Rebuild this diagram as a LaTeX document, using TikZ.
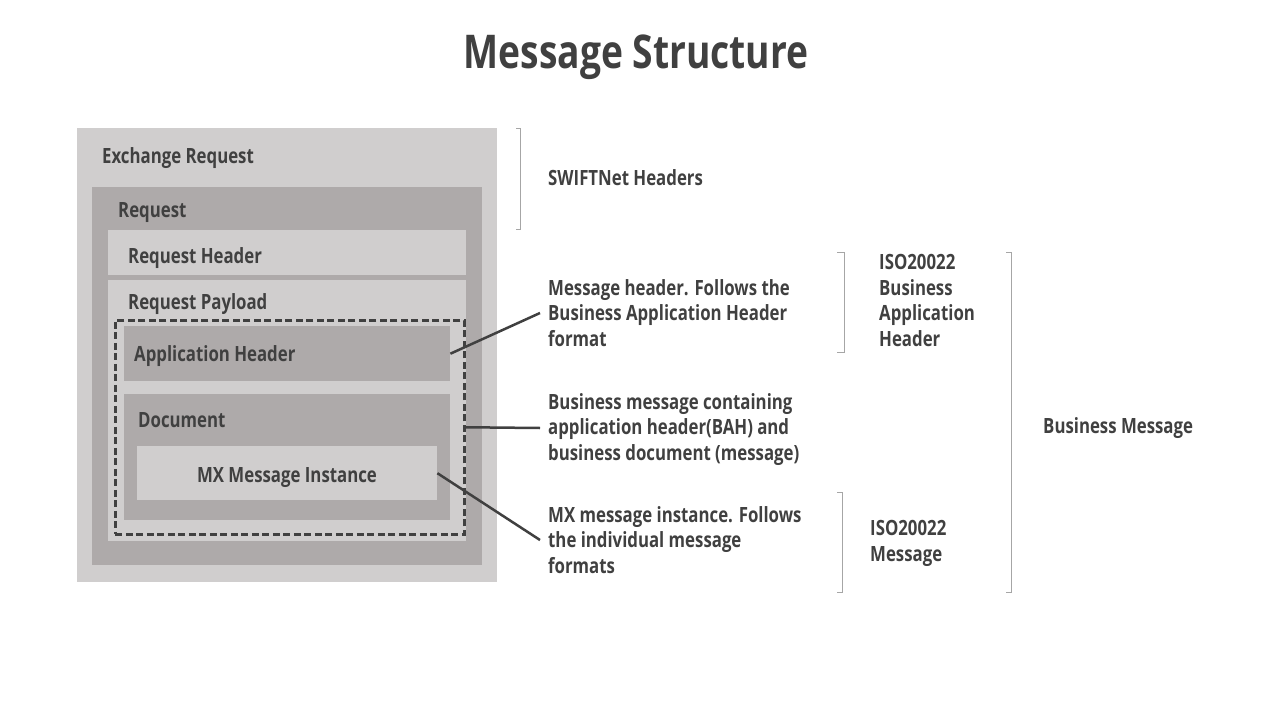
\documentclass[tikz,border=0pt]{standalone}
\usepackage{fontspec}
\setmainfont{Open Sans}[FakeStretch=0.8]
\usepackage{tikz}
\usetikzlibrary{calc,positioning}
\definecolor{boxlight}{HTML}{D0CECE}
\definecolor{boxdark}{HTML}{AEAAAA}
\definecolor{txtgray}{HTML}{404040}
\definecolor{brgray}{HTML}{A6A6A6}
\tikzset{
  lightbox/.style={fill=boxlight, draw=none, anchor=north west, inner sep=0pt},
  darkbox/.style={fill=boxdark, draw=none, anchor=north west, inner sep=0pt},
  lbl/.style={font=\bfseries\fontsize{21}{25.5}\selectfont, text=txtgray, inner sep=0pt, anchor=base west},
  desc/.style={lbl, align=left, anchor=west},
  conn/.style={draw=txtgray, line width=2.5pt},
  brk/.style={draw=brgray, line width=1pt},
}

\begin{document}
\begin{tikzpicture}[x=1pt,y=-1pt]
\useasboundingbox (0,0) rectangle (1280,720);
% titolo
\node[font=\bfseries\fontsize{46.5}{56}\selectfont, text=txtgray, anchor=base] (title) at (636,68) {Message Structure};
% scatole annidate
\node[lightbox, minimum width=420, minimum height=454] (exch) at (77,128) {};
\node[darkbox, minimum width=390, minimum height=378] (req) at (92,187) {};
\node[lightbox, minimum width=358, minimum height=45] (reqhdr) at (108,230) {};
\node[lightbox, minimum width=358, minimum height=261] (reqpay) at (108,280) {};
\node[darkbox, minimum width=326, minimum height=55] (apphdr) at (124,326) {};
\node[darkbox, minimum width=326, minimum height=126] (doc) at (124,394) {};
\node[lightbox, minimum width=300, minimum height=54] (mxinst) at (137,446) {};
\node[draw=txtgray, line width=2.5pt, dash pattern=on 7pt off 3.5pt, anchor=north west,
      minimum width=349, minimum height=214, inner sep=0pt] (bizmsg) at (114,319) {};
% etichette delle scatole
\node[lbl] (exchlbl) at (102,163) {Exchange Request};
\node[lbl] (reqlbl) at (118,217) {Request};
\node[lbl] (reqhdrlbl) at (128,263) {Request Header};
\node[lbl] (reqpaylbl) at (128,309) {Request Payload};
\node[lbl] (apphdrlbl) at (134,361) {Application Header};
\node[lbl] (doclbl) at (138,427) {Document};
\node[lbl, anchor=base] (mxlbl) at (287,482) {MX Message Instance};
% descrizioni
\node[desc] (desc1) at (548,313) {Message header. Follows the\\Business Application Header\\format};
\node[desc] (desc2) at (548,429.5) {Business message containing\\application header(BAH) and\\business document (message)};
\node[desc] (desc3) at (548,540) {MX message instance. Follows\\the individual message\\formats};
\draw[conn] (apphdr.east) -- ([xshift=-8pt]desc1.west);
\draw[conn] (bizmsg.east) -- ([xshift=-8pt,yshift=1.5pt]desc2.west);
\draw[conn] (mxinst.east) -- ([xshift=-8pt]desc3.west);
% parentesi laterali
\draw[brk] (516,128) -- (520,128) -- (520,229) -- (516,229);
\node[lbl] (swiftlbl) at (548,185) {SWIFTNet Headers};
\draw[brk] (837,252) -- (844,252) -- (844,352) -- (837,352);
\node[desc] (bahlbl) at (879,300.5) {ISO20022\\Business\\Application\\Header};
\draw[brk] (837,492) -- (842,492) -- (842,592) -- (837,592);
\node[desc] (isolbl) at (870,543.5) {ISO20022\\Message};
\draw[brk] (1006,252) -- (1011,252) -- (1011,592) -- (1006,592);
\node[lbl] (bmlbl) at (1043,433) {Business Message};
\end{tikzpicture}
\end{document}
